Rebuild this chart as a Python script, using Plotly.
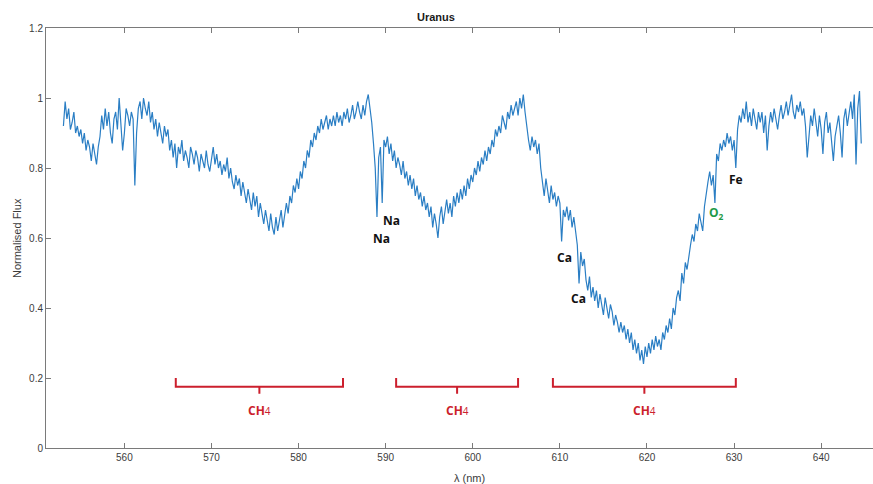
import numpy as np
import plotly.graph_objects as go

# Normalised flux of Uranus, sampled every 0.2 nm starting at 553.0 nm
wl_start, wl_step = 553.0, 0.2
flux = [
    0.92, 0.99, 0.94, 0.97, 0.91,  # 553
    0.93, 0.96, 0.90, 0.92, 0.89,  # 554
    0.91, 0.87, 0.90, 0.85, 0.88,  # 555
    0.86, 0.82, 0.87, 0.84, 0.81,  # 556
    0.86, 0.89, 0.95, 0.91, 0.97,  # 557
    0.92, 0.96, 0.90, 0.87, 0.94,  # 558
    0.96, 0.91, 1.00, 0.93, 0.85,  # 559
    0.90, 0.97, 0.95, 0.92, 0.96,  # 560
    0.94, 0.75, 0.90, 0.97, 0.99,  # 561
    0.94, 1.00, 0.97, 0.95, 0.99,  # 562
    0.93, 0.96, 0.91, 0.94, 0.89,  # 563
    0.93, 0.90, 0.87, 0.92, 0.89,  # 564
    0.91, 0.85, 0.88, 0.83, 0.87,  # 565
    0.80, 0.86, 0.84, 0.88, 0.82,  # 566
    0.85, 0.83, 0.80, 0.86, 0.84,  # 567
    0.81, 0.85, 0.83, 0.79, 0.84,  # 568
    0.82, 0.80, 0.85, 0.81, 0.79,  # 569
    0.83, 0.86, 0.81, 0.84, 0.80,  # 570
    0.82, 0.78, 0.81, 0.79, 0.83,  # 571
    0.77, 0.80, 0.76, 0.74, 0.78,  # 572
    0.75, 0.77, 0.72, 0.76, 0.73,  # 573
    0.70, 0.74, 0.71, 0.68, 0.73,  # 574
    0.69, 0.72, 0.66, 0.70, 0.67,  # 575
    0.64, 0.68, 0.65, 0.62, 0.67,  # 576
    0.63, 0.61, 0.66, 0.62, 0.65,  # 577
    0.68, 0.63, 0.66, 0.70, 0.67,  # 578
    0.72, 0.70, 0.75, 0.73, 0.77,  # 579
    0.74, 0.79, 0.77, 0.82, 0.80,  # 580
    0.85, 0.83, 0.88, 0.86, 0.90,  # 581
    0.88, 0.92, 0.90, 0.94, 0.91,  # 582
    0.93, 0.95, 0.91, 0.94, 0.92,  # 583
    0.95, 0.92, 0.96, 0.93, 0.95,  # 584
    0.92, 0.96, 0.94, 0.97, 0.93,  # 585
    0.95, 0.98, 0.94, 0.96, 0.99,  # 586
    0.96, 0.94, 0.98, 0.95, 0.99,  # 587
    1.01, 0.97, 0.93, 0.87, 0.80,  # 588
    0.66, 0.83, 0.86, 0.70, 0.88,  # 589  Na D
    0.86, 0.89, 0.84, 0.87, 0.82,  # 590
    0.85, 0.80, 0.83, 0.81, 0.78,  # 591
    0.82, 0.77, 0.79, 0.75, 0.78,  # 592
    0.74, 0.77, 0.72, 0.75, 0.71,  # 593
    0.73, 0.69, 0.72, 0.68, 0.70,  # 594
    0.66, 0.69, 0.63, 0.67, 0.64,  # 595
    0.60, 0.66, 0.69, 0.64, 0.68,  # 596
    0.71, 0.67, 0.70, 0.66, 0.72,  # 597
    0.69, 0.73, 0.70, 0.74, 0.71,  # 598
    0.75, 0.72, 0.77, 0.74, 0.78,  # 599
    0.76, 0.80, 0.78, 0.82, 0.79,  # 600
    0.83, 0.81, 0.85, 0.82, 0.86,  # 601
    0.84, 0.88, 0.86, 0.91, 0.89,  # 602
    0.92, 0.90, 0.95, 0.93, 0.91,  # 603
    0.96, 0.94, 0.98, 0.95, 0.97,  # 604
    0.99, 0.95, 1.00, 0.97, 1.01,  # 605
    0.96, 0.91, 0.88, 0.85, 0.89,  # 606
    0.86, 0.88, 0.84, 0.87, 0.80,  # 607
    0.76, 0.72, 0.77, 0.74, 0.70,  # 608
    0.75, 0.71, 0.73, 0.69, 0.72,  # 609
    0.70, 0.59, 0.68, 0.66, 0.69,  # 610  Ca
    0.65, 0.68, 0.63, 0.66, 0.62,  # 611
    0.58, 0.47, 0.56, 0.52, 0.54,  # 612  Ca
    0.48, 0.45, 0.49, 0.43, 0.46,  # 613
    0.42, 0.45, 0.40, 0.44, 0.41,  # 614
    0.38, 0.43, 0.40, 0.37, 0.41,  # 615
    0.39, 0.35, 0.38, 0.36, 0.33,  # 616
    0.36, 0.33, 0.35, 0.31, 0.34,  # 617
    0.30, 0.33, 0.28, 0.31, 0.27,  # 618
    0.30, 0.25, 0.28, 0.24, 0.29,  # 619
    0.26, 0.30, 0.27, 0.31, 0.28,  # 620
    0.32, 0.29, 0.31, 0.28, 0.33,  # 621
    0.31, 0.35, 0.33, 0.37, 0.34,  # 622
    0.40, 0.38, 0.43, 0.45, 0.42,  # 623
    0.50, 0.47, 0.53, 0.51, 0.55,  # 624
    0.58, 0.61, 0.59, 0.64, 0.62,  # 625
    0.67, 0.64, 0.62, 0.69, 0.73,  # 626
    0.76, 0.79, 0.75, 0.78, 0.70,  # 627  O2
    0.84, 0.82, 0.87, 0.85, 0.88,  # 628
    0.86, 0.90, 0.87, 0.89, 0.85,  # 629
    0.88, 0.80, 0.91, 0.95, 0.93,  # 630  Fe
    0.97, 0.94, 0.99, 0.93, 0.96,  # 631
    0.92, 0.97, 0.94, 0.91, 0.96,  # 632
    0.93, 0.96, 0.90, 0.95, 0.85,  # 633
    0.92, 0.96, 0.93, 0.97, 0.94,  # 634
    0.91, 0.95, 0.98, 0.94, 0.96,  # 635
    0.99, 0.95, 0.98, 1.01, 0.96,  # 636
    0.94, 0.98, 0.96, 0.99, 0.95,  # 637
    0.97, 0.92, 0.83, 0.90, 0.95,  # 638
    0.92, 0.97, 0.93, 0.89, 0.95,  # 639
    0.91, 0.84, 0.93, 0.96, 0.90,  # 640
    0.93, 0.87, 0.82, 0.89, 0.92,  # 641
    0.95, 0.90, 0.83, 0.94, 0.97,  # 642
    0.92, 0.96, 0.99, 0.94, 1.01,  # 643
    0.81, 0.97, 1.02, 0.87,        # 644
]
wavelength = wl_start + wl_step * np.arange(len(flux))

# Absorption-line identifications: label, wavelength, flux position, colour
line_ids = ["Na", "Na", "Ca", "Ca", "O<sub>2</sub>", "Fe"]
line_x = [590.7, 589.5, 610.5, 612.1, 628.0, 630.2]
line_y = [0.651, 0.600, 0.543, 0.426, 0.671, 0.766]
line_colors = ["#111111", "#111111", "#111111", "#111111", "#1e9a48", "#111111"]

# Methane absorption bands (nm)
ch4_start = [565.9, 591.2, 609.2]
ch4_end = [585.1, 605.2, 630.2]

x_ticks = [560, 570, 580, 590, 600, 610, 620, 630, 640]
y_ticks = [0, 0.2, 0.4, 0.6, 0.8, 1, 1.2]
y_tick_text = ["0", "0.2", "0.4", "0.6", "0.8", "1", "1.2"]

AX = "#7a7a7a"
TXT = "#3c3c3c"
RED = "#cc1f2d"
FONT = "Liberation Sans, Arial, sans-serif"

fig = go.Figure()
fig.add_trace(go.Scatter(
    x=wavelength, y=flux, mode="lines",
    line=dict(color="#2a7ec4", width=1.2),
    hoverinfo="skip", showlegend=False,
))

# Brackets marking the CH4 bands
arm_top, bar_y, tick_bot, label_y = 0.200, 0.175, 0.155, 0.106
shapes = []
annotations = []
for a, b in zip(ch4_start, ch4_end):
    c = (a + b) / 2
    path = (f"M {a},{arm_top} L {a},{bar_y} L {b},{bar_y} L {b},{arm_top} "
            f"M {c},{bar_y} L {c},{tick_bot}")
    shapes.append(dict(type="path", xref="x", yref="y", path=path,
                       line=dict(color=RED, width=2)))
    annotations.append(dict(x=c, y=label_y, xref="x", yref="y",
                            text="<b>CH</b><span style='font-size:10px'>4</span>",
                            showarrow=False,
                            font=dict(family="Open Sans, sans-serif", size=12, color=RED)))

for t, lx, ly, col in zip(line_ids, line_x, line_y, line_colors):
    annotations.append(dict(x=lx, y=ly, xref="x", yref="y", text=f"<b>{t}</b>",
                            showarrow=False,
                            font=dict(family="Open Sans, sans-serif", size=12, color=col)))

# Title and axis labels
annotations.append(dict(x=0.4716, y=1.026, xref="paper", yref="paper",
                        xanchor="center", yanchor="middle",
                        text="<b>Uranus</b>", showarrow=False,
                        font=dict(family=FONT, size=11, color="#1a1a1a")))
annotations.append(dict(x=0.512, y=-0.0714, xref="paper", yref="paper",
                        xanchor="center", yanchor="middle",
                        text="λ (nm)", showarrow=False,
                        font=dict(family=FONT, size=11, color=TXT)))
annotations.append(dict(x=-0.035, y=0.5, xref="paper", yref="paper",
                        xanchor="center", yanchor="middle",
                        text="Normalised Flux", showarrow=False, textangle=-90,
                        font=dict(family=FONT, size=11, color=TXT)))

fig.update_layout(
    width=873, height=484,
    margin=dict(l=46, r=0, t=28, b=36),
    paper_bgcolor="white", plot_bgcolor="white",
    shapes=shapes, annotations=annotations,
    xaxis=dict(range=[551.0, 645.95], tickvals=x_ticks, ticks="inside", ticklen=5,
               tickcolor=AX, showline=True, linecolor=AX, linewidth=1,
               mirror="ticks", showgrid=False, zeroline=False,
               tickfont=dict(family=FONT, size=10, color=TXT)),
    yaxis=dict(range=[0, 1.2], tickvals=y_ticks, ticktext=y_tick_text,
               ticks="inside", ticklen=5, tickcolor=AX, showline=True,
               linecolor=AX, linewidth=1, mirror=False, showgrid=False,
               zeroline=False, tickfont=dict(family=FONT, size=10, color=TXT)),
)

fig.write_html("out.html")
